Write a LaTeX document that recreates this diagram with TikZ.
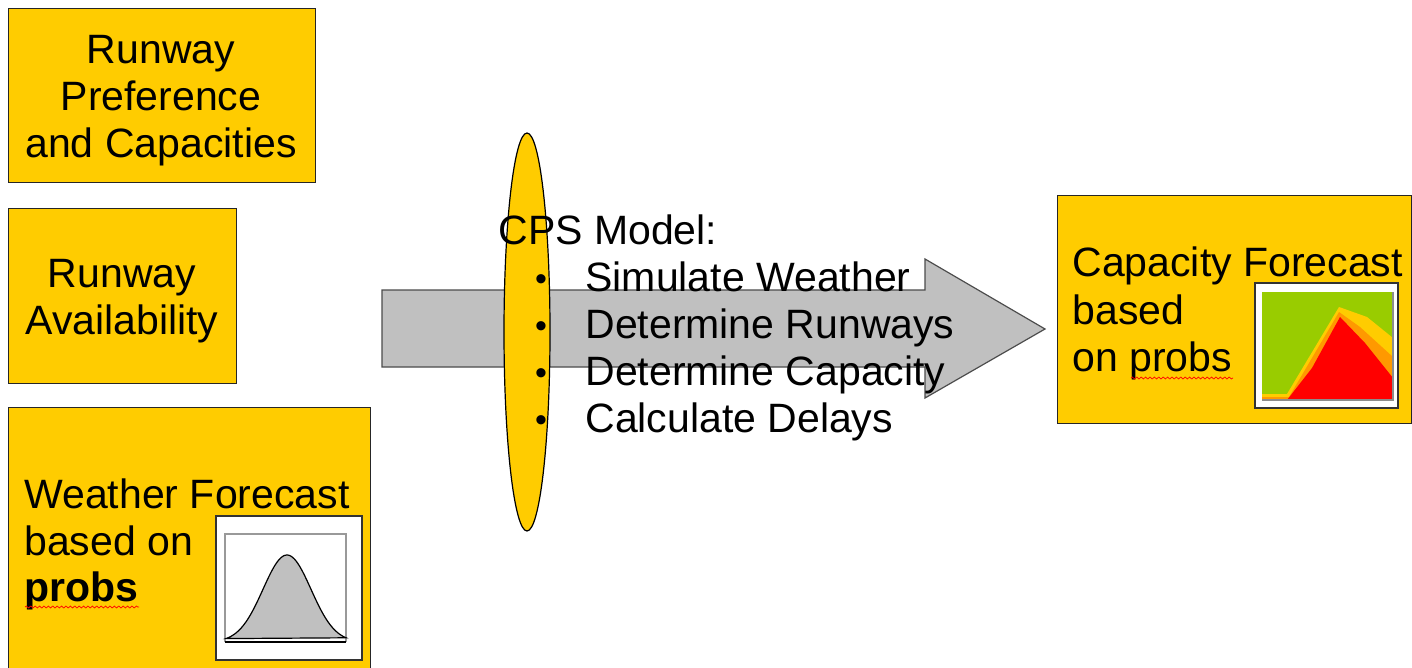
\documentclass[tikz,border=0pt]{standalone}
\usepackage{fontspec}
\setmainfont{Liberation Sans}
\usetikzlibrary{decorations.pathmorphing}
\definecolor{amber}{RGB}{255,204,0}
\definecolor{arrowgray}{RGB}{192,192,192}
\definecolor{chartgreen}{RGB}{153,204,0}
\definecolor{chartorange}{RGB}{255,153,0}
\definecolor{chartred}{RGB}{255,0,0}
\begin{document}
\begin{tikzpicture}[x=0.5pt,y=-0.5pt,
  ybox/.style={draw=black!85, fill=amber, line width=0.6pt, inner sep=0pt, anchor=north west},
  txt/.style={font=\fontsize{20.5}{23.5}\selectfont, inner sep=0pt, anchor=base},
  txtl/.style={txt, anchor=base west},
  bul/.style={font=\fontsize{17}{19}\selectfont, inner sep=0pt, anchor=base},
  squiggle/.style={draw=red, line width=0.35pt, decorate, decoration={snake, amplitude=0.5pt, segment length=2.2pt}},
  frame/.style={draw=black!80, fill=white, line width=0.6pt}]
\clip (0,0) rectangle (1412,668);
\fill[white] (0,0) rectangle (1412,668);

% input boxes
\node[ybox, minimum width=153.5pt, minimum height=87pt] (pref) at (8,8) {};
\node[txt] (pref1) at (161,64) {Runway};
\node[txt] (pref2) at (161,111) {Preference};
\node[txt] (pref3) at (161,158) {and Capacities};

\node[ybox, minimum width=114pt, minimum height=87.5pt] (avail) at (8,208) {};
\node[txt] (avail1) at (122,287) {Runway};
\node[txt] (avail2) at (122,334) {Availability};

\node[ybox, minimum width=181pt, minimum height=146.5pt] (wx) at (8,407) {};
\node[txtl] (wx1) at (24,508) {Weather Forecast};
\node[txtl] (wx2) at (24,555) {based on};
\node[txtl] (wx3) at (24,601) {\bfseries probs};
\draw[squiggle] (25,607) -- (139,607);
% weather chart
\draw[frame] (216,516) rectangle (362,660);
\draw[draw=black!40, line width=0.6pt] (225,642) -- (225,534) -- (346,534) -- (346,642);
\draw[fill=arrowgray, draw=black, line width=0.6pt]
  plot[domain=226:346, samples=80] (\x, {642-87*exp(-((\x-287)*(\x-287))/1150)}) -- cycle;
\draw[black, line width=1pt] (225,642) -- (346,642);

% big arrow
\draw[fill=arrowgray, draw=black!70, line width=0.6pt]
  (382,290) -- (925,290) -- (925,259) -- (1045,329) -- (925,398) -- (925,367) -- (382,367) -- cycle;

% ellipse
\draw[fill=amber, draw=black, line width=0.6pt] (527,332) ellipse [x radius=11.5pt, y radius=99.5pt];

% CPS text
\node[txtl] (cps) at (498,244) {CPS Model:};
\node[bul] (bu1) at (541,290) {\textbullet};
\node[bul] (bu2) at (541,337) {\textbullet};
\node[bul] (bu3) at (541,384) {\textbullet};
\node[bul] (bu4) at (541,431) {\textbullet};
\node[txtl] (it1) at (585,291) {Simulate Weather};
\node[txtl] (it2) at (585,338) {Determine Runways};
\node[txtl] (it3) at (585,385) {Determine Capacity};
\node[txtl] (it4) at (585,432) {Calculate Delays};

% output box
\node[ybox, minimum width=177pt, minimum height=114pt] (cap) at (1057,195) {};
\node[txtl] (cap1) at (1072,277) {Capacity Forecast};
\node[txtl] (cap2) at (1072,324) {based};
\node[txtl] (cap3) at (1072,371) {on probs};
\draw[squiggle] (1131,378) -- (1233,378);
% capacity chart
\draw[frame] (1255,283) rectangle (1398,408);
\fill[chartgreen] (1262,292) rectangle (1393,400);
\fill[amber] (1262,394) -- (1287,394) -- (1339,307) -- (1367,317) -- (1393,338) -- (1393,400) -- (1262,400) -- cycle;
\fill[chartorange] (1262,397) -- (1289,397) -- (1339,312) -- (1360,327) -- (1393,357) -- (1393,400) -- (1262,400) -- cycle;
\fill[chartred] (1287,400) -- (1312,368) -- (1340,317) -- (1365,343) -- (1393,378) -- (1393,400) -- cycle;
\draw[black!45, line width=0.8pt] (1262,400) -- (1393,400) -- (1393,292);
\end{tikzpicture}
\end{document}
